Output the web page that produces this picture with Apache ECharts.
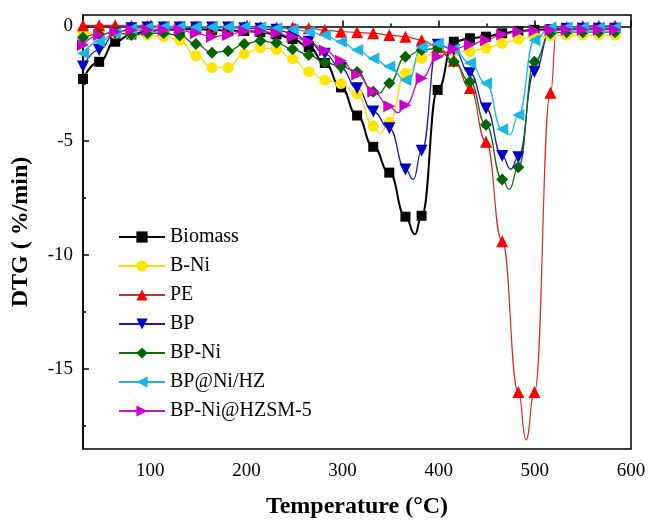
<!DOCTYPE html>
<html><head><meta charset="utf-8">
<script src="https://cdn.jsdelivr.net/npm/echarts@6/dist/echarts.min.js"></script>
<style>html,body{margin:0;padding:0;background:#fff}#c{width:649px;height:520px}</style>
</head><body><div id="c"></div>
<script>
// Marker temperatures (°C)
const temps = [30, 46.8, 63.5, 80.3, 97.1, 113.9, 130.6, 147.4, 164.2, 180.9, 197.7, 214.5, 231.2, 248, 264.8, 281.5, 298.3, 315.1, 331.9, 348.6, 365.4, 382.2, 398.9, 415.7, 432.5, 449.2, 466, 482.8, 499.6, 516.3, 533.1, 549.9, 566.6, 583.4];

const biomass = [-2.3, -1.55, -0.67, -0.35, -0.2, -0.15, -0.12, -0.12, -0.15, -0.18, -0.2, -0.25, -0.35, -0.55, -0.9, -1.6, -2.67, -3.9, -5.27, -6.4, -8.33, -8.29, -2.78, -0.67, -0.52, -0.45, -0.3, -0.2, -0.15, -0.12, -0.1, -0.1, -0.1, -0.1];
const bNi = [-0.3, -0.3, -0.3, -0.35, -0.38, -0.45, -0.6, -1.28, -1.8, -1.8, -1.2, -0.93, -1.0, -1.42, -1.98, -2.35, -2.5, -2.95, -4.36, -4.2, -2.05, -1.4, -1.05, -1.1, -1.1, -0.96, -0.74, -0.56, -0.45, -0.4, -0.38, -0.38, -0.38, -0.38];
const pe = [0.05, 0.05, 0.05, 0.03, 0.02, 0, 0, -0.02, -0.03, -0.03, -0.03, -0.03, -0.05, -0.05, -0.08, -0.16, -0.23, -0.26, -0.3, -0.38, -0.45, -0.6, -0.9, -1.5, -2.7, -5.05, -9.4, -16.0, -16.0, -2.9, -0.05, 0.02, 0.03, 0.03];
const bp = [-1.76, -1.03, -0.3, -0.08, -0.05, -0.05, -0.05, -0.05, -0.05, -0.05, -0.08, -0.1, -0.15, -0.3, -0.67, -1.2, -1.83, -2.71, -3.73, -4.46, -6.26, -5.44, -0.8, -1.03, -2.05, -3.59, -5.67, -5.73, -1.98, -0.2, -0.1, -0.1, -0.1, -0.1];
const bpNi = [-0.48, -0.35, -0.25, -0.38, -0.3, -0.3, -0.4, -0.77, -1.15, -1.08, -0.77, -0.63, -0.72, -1.0, -1.25, -1.58, -1.75, -2.0, -2.86, -2.49, -1.33, -1.03, -0.96, -1.55, -2.42, -4.31, -6.7, -6.17, -1.55, -0.3, -0.25, -0.25, -0.25, -0.25];
const bpNiHZ = [-1.18, -0.67, -0.3, -0.1, -0.05, -0.03, -0.02, -0.02, -0.02, -0.02, -0.03, -0.05, -0.08, -0.12, -0.23, -0.38, -0.67, -1.03, -1.4, -1.76, -2.35, -0.9, -0.75, -1.0, -1.6, -2.49, -4.5, -3.88, -0.6, -0.05, -0.05, -0.05, -0.05, -0.05];
const bpNiHZSM = [-0.81, -0.38, -0.23, -0.16, -0.16, -0.16, -0.16, -0.3, -0.45, -0.38, -0.2, -0.2, -0.3, -0.45, -0.67, -1.05, -1.5, -2.1, -2.86, -3.5, -3.45, -2.27, -1.33, -1.0, -0.8, -0.6, -0.35, -0.23, -0.19, -0.16, -0.15, -0.15, -0.15, -0.15];

// Curve points between markers (peak bottoms etc.), no marker drawn
const biomassCurve = [[375.3, -9.1]];
const bNiCurve = [[339, -4.67]];
const peCurve = [[490.8, -18.1], [522.5, -0.2]];
const bpCurve = [[373.6, -6.7], [474.9, -6.25]];
const bpNiCurve = [[337, -2.95], [473.4, -7.13]];
const bpNiHZCurve = [[368, -2.4], [474.1, -4.75]];
const bpNiHZSMCurve = [[357.7, -3.78]];

const names = ['Biomass', 'B-Ni', 'PE', 'BP', 'BP-Ni', 'BP@Ni/HZ', 'BP-Ni@HZSM-5'];
const xLabels = [100, 200, 300, 400, 500, 600];
const xMinor = [50, 150, 250, 350, 450, 550];
const yLabels = [0, -5, -10, -15];
const yMinor = [-2.5, -7.5, -12.5, -17.5];

const FONT = '"Liberation Serif","Times New Roman",serif';
const diamond = 'path://M0,-1L1,0L0,1L-1,0Z';

function build(vals, extra) {
  const pts = temps.map((t, i) => ({ value: [t, vals[i]] }));
  extra.forEach(p => pts.push({ value: p, symbol: 'none' }));
  pts.sort((a, b) => a.value[0] - b.value[0]);
  return pts;
}

const defs = [
  { v: biomass, e: biomassCurve, color: '#000000', line: '#000000', sym: 'rect', rot: 0, size: 10, w: 2 },
  { v: bNi, e: bNiCurve, color: '#FFE600', line: '#FFD800', sym: 'circle', rot: 0, size: 11, w: 1.3 },
  { v: pe, e: peCurve, color: '#FF0000', line: '#D42A2A', sym: 'triangle', rot: 0, size: 12, w: 1.2 },
  { v: bp, e: bpCurve, color: '#0000C8', line: '#1a1ab4', sym: 'triangle', rot: 180, size: 12, w: 1.3 },
  { v: bpNi, e: bpNiCurve, color: '#006400', line: '#0e6e0e', sym: diamond, rot: 0, size: 12, w: 1.3 },
  { v: bpNiHZ, e: bpNiHZCurve, color: '#1AB6E6', line: '#1AB6E6', sym: 'triangle', rot: 90, size: 12, w: 1.3 },
  { v: bpNiHZSM, e: bpNiHZSMCurve, color: '#CC00C8', line: '#C21ABE', sym: 'triangle', rot: -90, size: 12, w: 1.3 }
];

const series = defs.map((d, i) => ({
  name: names[i], type: 'line', xAxisIndex: 0, yAxisIndex: 0,
  data: build(d.v, d.e),
  smooth: 0.5, smoothMonotone: 'x',
  symbol: d.sym, symbolRotate: d.rot, symbolSize: d.size, showAllSymbol: true,
  itemStyle: { color: d.color, borderWidth: 0 },
  lineStyle: { color: d.line, width: d.w },
  emphasis: { disabled: true }, animation: false
}));

const axisLineStyle = { color: '#000', width: 1.5 };
const chart = echarts.init(document.getElementById('c'), null, { renderer: 'canvas' });
chart.setOption({
  animation: false,
  backgroundColor: '#fff',
  grid: { left: 83, right: 18, top: 15, bottom: 71, show: true, borderColor: '#000', borderWidth: 1.5,
          backgroundColor: 'transparent', containLabel: false, outerBoundsMode: 'none' },
  legend: {
    orient: 'vertical', left: 118, top: 227, padding: 0, itemWidth: 46, itemHeight: 14, itemGap: 9,
    textStyle: { fontFamily: FONT, fontSize: 20, color: '#000' },
    data: names
  },
  xAxis: [
    { type: 'value', min: 30, max: 600, position: 'bottom',
      axisLine: { show: true, lineStyle: axisLineStyle },
      axisTick: { show: true, inside: true, length: 6, lineStyle: axisLineStyle, customValues: xLabels },
      axisLabel: { fontFamily: FONT, fontSize: 19, color: '#000', margin: 13, customValues: xLabels },
      splitLine: { show: false },
      name: 'Temperature (°C)', nameLocation: 'middle', nameGap: 46,
      nameTextStyle: { fontFamily: FONT, fontSize: 24, fontWeight: 'bold', color: '#000' } },
    { type: 'value', min: 30, max: 600, position: 'bottom',
      axisLine: { show: false },
      axisTick: { show: true, inside: true, length: 3, lineStyle: axisLineStyle, customValues: xMinor },
      axisLabel: { show: false }, splitLine: { show: false } }
  ],
  yAxis: [
    { type: 'value', min: -18.5, max: 0.5, position: 'left',
      axisLine: { show: true, lineStyle: axisLineStyle },
      axisTick: { show: true, inside: true, length: 6, lineStyle: axisLineStyle, customValues: yLabels },
      axisLabel: { fontFamily: FONT, fontSize: 19, color: '#000', margin: 10, customValues: yLabels },
      splitLine: { show: false },
      name: 'DTG ( %/min)', nameLocation: 'middle', nameGap: 50, nameRotate: 90,
      nameTextStyle: { fontFamily: FONT, fontSize: 24, fontWeight: 'bold', color: '#000' } },
    { type: 'value', min: -18.5, max: 0.5, position: 'left',
      axisLine: { show: false },
      axisTick: { show: true, inside: true, length: 3, lineStyle: axisLineStyle, customValues: yMinor },
      axisLabel: { show: false }, splitLine: { show: false } }
  ],
  series: series
});
</script>
</body></html>
